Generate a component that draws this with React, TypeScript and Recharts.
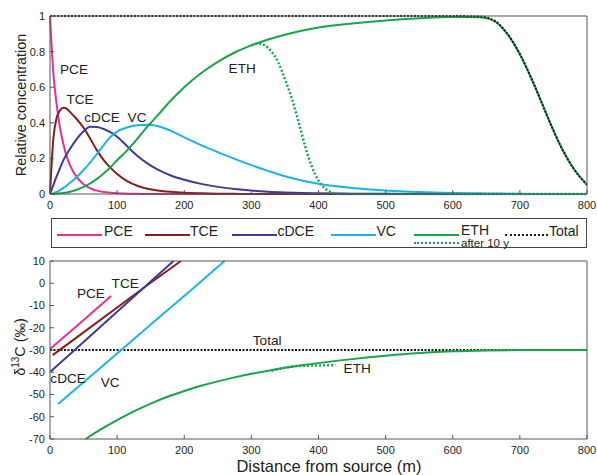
import React from 'react';
import { LineChart, Line, XAxis, YAxis, ReferenceDot } from 'recharts';

// ---------- Top panel: relative concentration vs distance ----------
const topX = [0, 5, 10, 15, 20, 25, 30, 40, 50, 60, 70, 80, 90, 100, 115, 130, 145, 160, 180, 200, 225, 250, 275, 300, 325, 350, 375, 400, 450, 500, 550, 600, 640, 660, 680, 700, 720, 740, 760, 780, 800];
const pceConc = [1, 0.68, 0.5, 0.37, 0.28, 0.21, 0.16, 0.095, 0.055, 0.032, 0.019, 0.011, 0.007, 0.004, 0.002, 0.001, 0, 0, 0, 0, 0, 0, 0, 0, 0, 0, 0, 0, 0, 0, 0, 0, 0, 0, 0, 0, 0, 0, 0, 0, 0];
const tceConc = [0, 0.31, 0.43, 0.47, 0.484, 0.478, 0.46, 0.42, 0.372, 0.31, 0.245, 0.19, 0.148, 0.112, 0.072, 0.046, 0.03, 0.02, 0.012, 0.007, 0.004, 0.002, 0.001, 0, 0, 0, 0, 0, 0, 0, 0, 0, 0, 0, 0, 0, 0, 0, 0, 0, 0];
const cdceConc = [0, 0.05, 0.1, 0.145, 0.19, 0.225, 0.255, 0.31, 0.352, 0.378, 0.376, 0.365, 0.347, 0.322, 0.268, 0.215, 0.172, 0.138, 0.104, 0.08, 0.057, 0.04, 0.028, 0.019, 0.013, 0.009, 0.006, 0.004, 0.002, 0.001, 0, 0, 0, 0, 0, 0, 0, 0, 0, 0, 0];
const vcConc = [0, 0.004, 0.012, 0.022, 0.034, 0.048, 0.063, 0.096, 0.135, 0.178, 0.225, 0.275, 0.32, 0.35, 0.374, 0.386, 0.389, 0.382, 0.355, 0.318, 0.275, 0.235, 0.197, 0.162, 0.13, 0.1, 0.076, 0.057, 0.034, 0.02, 0.011, 0.006, 0.004, 0.003, 0.002, 0.001, 0, 0, 0, 0, 0];
const ethConc = [0, 0, 0.002, 0.004, 0.006, 0.009, 0.013, 0.024, 0.04, 0.06, 0.085, 0.115, 0.15, 0.19, 0.245, 0.31, 0.378, 0.44, 0.525, 0.6, 0.678, 0.742, 0.795, 0.835, 0.868, 0.895, 0.917, 0.935, 0.958, 0.975, 0.987, 0.994, 0.993, 0.975, 0.905, 0.785, 0.625, 0.445, 0.275, 0.143, 0.052];
const totalConc = [1, 1, 1, 1, 1, 1, 1, 1, 1, 1, 1, 1, 1, 1, 1, 1, 1, 1, 1, 1, 1, 1, 1, 1, 1, 1, 1, 1, 1, 1, 1, 1, 0.997, 0.978, 0.907, 0.786, 0.625, 0.445, 0.275, 0.143, 0.052];
const eth10X = [300, 310, 320, 330, 340, 350, 360, 370, 380, 390, 400, 410, 420, 430, 500, 600, 700, 800];
const eth10Conc = [0.835, 0.845, 0.835, 0.8, 0.74, 0.645, 0.54, 0.41, 0.27, 0.155, 0.075, 0.03, 0.008, 0, 0, 0, 0, 0];

// ---------- Bottom panel: delta13C vs distance ----------
const pceDX = [0, 30, 60, 91];
const pceDelta = [-29.5, -21.8, -13.9, -5.7];
const tceDX = [4, 50, 100, 150, 195];
const tceDelta = [-32.3, -22.1, -10.9, 0.2, 10];
const cdceDX = [1, 50, 100, 150, 184];
const cdceDelta = [-39.7, -26.4, -12.8, 0.8, 10];
const vcDX = [12, 60, 110, 160, 210, 260];
const vcDelta = [-54.3, -41.9, -29, -16, -3.1, 10];
const ethDX = [53, 75, 100, 125, 150, 175, 200, 225, 250, 275, 300, 325, 350, 375, 400, 450, 500, 550, 600, 650, 700, 800];
const ethDelta = [-70, -65.8, -61.5, -57.6, -54.1, -51, -48.4, -46.1, -44.1, -42.3, -40.7, -39.3, -38, -36.9, -35.9, -34.1, -32.6, -31.4, -30.6, -30.2, -30.05, -30];
const eth10DX = [330, 350, 370, 390, 410, 425];
const eth10Delta = [-39.3, -38, -37.2, -37, -36.9, -36.9];
const totalDX = [0, 800];
const totalDelta = [-30, -30];

// ---------- ticks & labels ----------
const xTicks = [0, 100, 200, 300, 400, 500, 600, 700, 800];
const concTicks = [0, 0.2, 0.4, 0.6, 0.8, 1];
const deltaTicks = [-70, -60, -50, -40, -30, -20, -10, 0, 10];
const topNames = ['PCE', 'TCE', 'cDCE', 'VC', 'ETH'];
const topNameX = [35.8, 44.7, 77.5, 129.7, 286.3];
const topNameY = [0.7, 0.534, 0.433, 0.433, 0.708];
const botNames = ['PCE', 'TCE', 'Total', 'cDCE', 'VC', 'ETH'];
const botNameX = [61, 112, 323.5, 27, 89.5, 457.6];
const botNameY = [-4.4, 0.1, -25.5, -42.6, -44.4, -38.1];

const rows = (xs: number[], ys: number[]) => xs.map((x, i) => ({ x, y: ys[i] }));

const FONT = '"Liberation Sans", Arial, Helvetica, sans-serif';
const AXIS = '#555';
const TXT = '#231f20';
const C = {
  pce: '#ec2d8e',
  tce: '#861d1d',
  cdce: '#3d3a9a',
  vc: '#19b3ec',
  eth: '#17a54a',
  total: '#1a1a1a',
};

const lineProps = { dot: false, isAnimationActive: false, xAxisId: 'b', yAxisId: 'l', dataKey: 'y', strokeWidth: 2 } as const;

export default function App() {
  const tickStyle = { fill: TXT, fontSize: 11 };
  return (
    <div style={{ position: 'absolute', left: 0, top: 0, width: 597, height: 475, fontFamily: FONT, background: '#fff' }}>
      <div style={{ position: 'absolute', left: 0, top: 0 }}>
        <LineChart width={597} height={215} margin={{ top: 15, right: 9, bottom: 1, left: 0 }}>
          <XAxis xAxisId="b" dataKey="x" type="number" domain={[0, 800]} ticks={xTicks} interval={0} tickSize={-4} tickMargin={11} height={20} stroke={AXIS} tick={tickStyle} />
          <XAxis xAxisId="t" orientation="top" dataKey="x" type="number" domain={[0, 800]} ticks={xTicks} interval={0} tickSize={-4} height={1} stroke={AXIS} tick={false} />
          <YAxis yAxisId="l" type="number" domain={[0, 1]} ticks={concTicks} interval={0} tickSize={-4} tickMargin={9} width={50} stroke={AXIS} tick={tickStyle} />
          <YAxis yAxisId="r" orientation="right" type="number" domain={[0, 1]} ticks={concTicks} interval={0} tickSize={-4} width={1} stroke={AXIS} tick={false} />
          <Line {...lineProps} data={rows(topX, pceConc)} type="monotone" stroke={C.pce} />
          <Line {...lineProps} data={rows(topX, tceConc)} type="monotone" stroke={C.tce} />
          <Line {...lineProps} data={rows(topX, cdceConc)} type="monotone" stroke={C.cdce} />
          <Line {...lineProps} data={rows(topX, vcConc)} type="monotone" stroke={C.vc} />
          <Line {...lineProps} data={rows(eth10X, eth10Conc)} type="monotone" stroke={C.eth} strokeWidth={2.5} strokeDasharray="2 2" />
          <Line {...lineProps} data={rows(topX, ethConc)} type="monotone" stroke={C.eth} />
          <Line {...lineProps} data={rows(topX, totalConc)} type="monotone" stroke={C.total} strokeDasharray="2 1.5" />
          {topNames.map((n, i) => (
            <ReferenceDot key={n} xAxisId="b" yAxisId="l" x={topNameX[i]} y={topNameY[i]} r={0} fill="none" stroke="none"
              label={{ value: n, position: 'center', fill: TXT, fontSize: 13.6 }} />
          ))}
        </LineChart>
      </div>

      {/* legend */}
      <div style={{ position: 'absolute', left: 51, top: 218, width: 536, height: 30, border: '1px solid #444', boxSizing: 'border-box' }} />
      {[
        { n: 'PCE', c: C.pce, l: 57, t: 104 },
        { n: 'TCE', c: C.tce, l: 145, t: 190 },
        { n: 'cDCE', c: C.cdce, l: 232, t: 277.5 },
        { n: 'VC', c: C.vc, l: 331, t: 376.5 },
        { n: 'ETH', c: C.eth, l: 414, t: 461 },
      ].map((it) => (
        <React.Fragment key={it.n}>
          <div style={{ position: 'absolute', left: it.l, top: 234, width: 45, height: 2, background: it.c }} />
          <span style={{ position: 'absolute', left: it.t, top: it.n === 'ETH' ? 223 : 224, fontSize: 14, lineHeight: '14px', color: TXT, whiteSpace: 'nowrap' }}>{it.n}</span>
        </React.Fragment>
      ))}
      <div style={{ position: 'absolute', left: 414, top: 242, width: 45, height: 0, borderTop: `2px dotted ${C.eth}` }} />
      <span style={{ position: 'absolute', left: 461, top: 236.5, fontSize: 11.5, lineHeight: '12px', color: TXT, whiteSpace: 'nowrap' }}>after 10 y</span>
      <div style={{ position: 'absolute', left: 505, top: 234, width: 43, height: 0, borderTop: `2px dotted ${C.total}` }} />
      <span style={{ position: 'absolute', left: 549, top: 224, fontSize: 14, lineHeight: '14px', color: TXT, whiteSpace: 'nowrap' }}>Total</span>

      <div style={{ position: 'absolute', left: 0, top: 250 }}>
        <LineChart width={597} height={225} margin={{ top: 10, right: 9, bottom: 6, left: 0 }}>
          <XAxis xAxisId="b" dataKey="x" type="number" domain={[0, 800]} ticks={xTicks} interval={0} tickSize={-4} tickMargin={11} height={30} stroke={AXIS} tick={tickStyle} />
          <XAxis xAxisId="t" orientation="top" dataKey="x" type="number" domain={[0, 800]} ticks={xTicks} interval={0} tickSize={-4} height={1} stroke={AXIS} tick={false} />
          <YAxis yAxisId="l" type="number" domain={[-70, 10]} ticks={deltaTicks} interval={0} tickSize={-4} tickMargin={9} width={50} stroke={AXIS} tick={tickStyle} />
          <YAxis yAxisId="r" orientation="right" type="number" domain={[-70, 10]} ticks={deltaTicks} interval={0} tickSize={-4} width={1} stroke={AXIS} tick={false} />
          <Line {...lineProps} data={rows(totalDX, totalDelta)} type="linear" stroke={C.total} strokeDasharray="2 1.5" />
          <Line {...lineProps} data={rows(pceDX, pceDelta)} type="linear" stroke={C.pce} />
          <Line {...lineProps} data={rows(tceDX, tceDelta)} type="linear" stroke={C.tce} />
          <Line {...lineProps} data={rows(cdceDX, cdceDelta)} type="linear" stroke={C.cdce} />
          <Line {...lineProps} data={rows(vcDX, vcDelta)} type="linear" stroke={C.vc} />
          <Line {...lineProps} data={rows(eth10DX, eth10Delta)} type="monotone" stroke={C.eth} strokeWidth={2.5} strokeDasharray="2 2" />
          <Line {...lineProps} data={rows(ethDX, ethDelta)} type="monotone" stroke={C.eth} />
          {botNames.map((n, i) => (
            <ReferenceDot key={n} xAxisId="b" yAxisId="l" x={botNameX[i]} y={botNameY[i]} r={0} fill="none" stroke="none"
              label={{ value: n, position: 'center', fill: TXT, fontSize: 13.6 }} />
          ))}
        </LineChart>
      </div>

      {/* axis titles */}
      <svg width={597} height={475} style={{ position: 'absolute', left: 0, top: 0, pointerEvents: 'none' }}>
        <text x={21} y={105} transform="rotate(-90 21 105)" textAnchor="middle" dominantBaseline="central" fontSize={14.4} fill={TXT}>Relative concentration</text>
        <text x={20} y={347} transform="rotate(-90 20 347)" textAnchor="middle" dominantBaseline="central" fontSize={14.4} fill={TXT}>
          <tspan>δ</tspan>
          <tspan dy={-5} fontSize={10}>13</tspan>
          <tspan dy={5}>C (‰)</tspan>
        </text>
        <text x={329} y={466} textAnchor="middle" dominantBaseline="central" fontSize={16.5} fill={TXT}>Distance from source (m)</text>
      </svg>
    </div>
  );
}
